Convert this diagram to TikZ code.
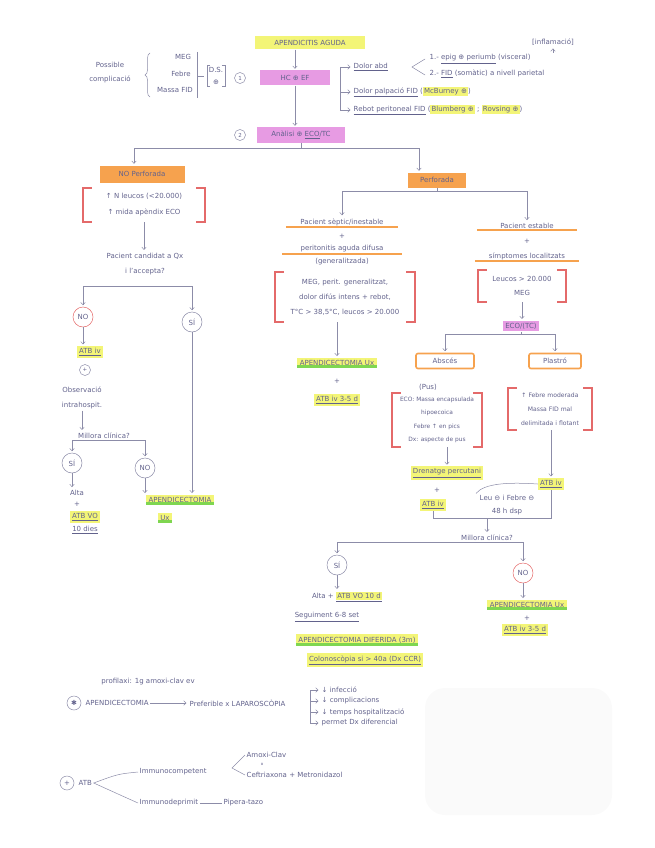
\documentclass[tikz,border=0pt]{standalone}
\usepackage{fontspec}
\setmainfont{DejaVu Sans}
\usetikzlibrary{arrows.meta,decorations.pathreplacing}
\definecolor{ink}{HTML}{62628C}
\definecolor{lnc}{HTML}{8C8CA8}
\definecolor{hy}{HTML}{F3F577}
\definecolor{hm}{HTML}{E79BE3}
\definecolor{ho}{HTML}{F6A24E}
\definecolor{hg}{HTML}{7FD650}
\definecolor{rbc}{HTML}{E46A6A}
\newcommand\hlY[1]{{\setlength{\fboxsep}{1.2pt}\colorbox{hy}{#1}}}
\newcommand\rbk[1]{%
  \draw[rbr] ([xshift=9pt]#1.north west) -- (#1.north west) -- (#1.south west) -- ([xshift=9pt]#1.south west);
  \draw[rbr] ([xshift=-9pt]#1.north east) -- (#1.north east) -- (#1.south east) -- ([xshift=-9pt]#1.south east);}
\begin{document}
\begin{tikzpicture}[x=1pt,y=-1pt,
  every node/.style={font=\fontsize{7}{8.5}\selectfont, text=ink, inner sep=1.5pt, align=center},
  lsp/.style={font=\fontsize{7}{#1}\selectfont},
  yel/.style={fill=hy, inner sep=2.2pt},
  mag/.style={fill=hm, inner sep=2.2pt},
  ora/.style={fill=ho, inner sep=2.2pt},
  yg/.style={fill=hy, inner sep=2.6pt, path picture={\fill[hg] ([yshift=3pt]path picture bounding box.south west) rectangle (path picture bounding box.south east);}},
  oul/.style={append after command={(\tikzlastnode.south west) edge[draw=ho, line width=2pt] (\tikzlastnode.south east)}},
  obox/.style={draw=ho, line width=1.6pt, rounded corners=2pt, inner sep=2.5pt},
  circ/.style={circle, draw=lnc, line width=0.5pt, inner sep=0.5pt, minimum size=20pt},
  ncirc/.style={circle, draw=lnc, line width=0.5pt, inner sep=0.3pt, minimum size=11pt, font=\fontsize{5.5}{6}\selectfont},
  rbr/.style={draw=rbc, line width=1.6pt},
  ln/.style={draw=lnc, line width=0.5pt},
  arr/.style={ln, -{Straight Barb[length=2.5pt,width=4.5pt]}, shorten >=1.5pt}]
\useasboundingbox (0,0) rectangle (655,848);
\fill[gray!4, rounded corners=20pt] (425,688) rectangle (612,815);

% ---------- top ----------
\node[yel, minimum width=110, minimum height=13] (title) at (310,43) {APENDICITIS AGUDA};
\node[mag, minimum width=70, minimum height=15] (hc) at (295,78) {HC ⊕ EF};
\node[ncirc] (n1) at (240,78) {1};
\node[mag, minimum width=88, minimum height=15] (an) at (301,135) {Anàlisi ⊕ \underline{ECO}/TC};
\node[ncirc] (n2) at (240,135) {2};
\draw[arr] (title.south -| hc.north) -- (hc.north);
\draw[arr] (hc.south) -- (hc.south |- an.north);

\node[lsp=14] (pc) at (110,73) {Possible\\complicació};
\draw[ln, decorate, decoration={brace, amplitude=5pt}] (150,97) -- (150,53);
\node (meg) at (183,57) {MEG};
\node (feb) at (181,74) {Febre};
\node (mas) at (175,90) {Massa FID};
\coordinate (vt) at (197,52);
\coordinate (vb) at (197,98);
\draw[ln] (vt) -- (vb);
\draw[ln] (197,76) -- (204,76);
\node[lsp=12] (ds) at (216,76) {D.S.\\⊕};
\draw[ln] ([xshift=3pt]ds.north west) -- (ds.north west) -- (ds.south west) -- ([xshift=3pt]ds.south west);
\draw[ln] ([xshift=-3pt]ds.north east) -- (ds.north east) -- (ds.south east) -- ([xshift=-3pt]ds.south east);

\coordinate (brt) at (340,67);
\coordinate (brb) at (340,110);
\node[anchor=west] (dabd) at (352,67) {\underline{Dolor abd}};
\draw[ln] (425,59) -- (412,67) -- (425,75);
\node[anchor=west] (d1) at (428,59) {1.- \underline{epig ⊕ periumb} (visceral)};
\node[anchor=west] (d2) at (428,74) {2.- \underline{FID} (somàtic) a nivell parietal};
\node (infl) at (553,42) {[inflamació]};
\draw[arr] (d1.north -| infl) -- (infl.south);
\node[anchor=west] (dpal) at (352,92) {\underline{Dolor palpació FID} (\hlY{McBurney ⊕})};
\node[anchor=west] (reb) at (352,110) {\underline{Rebot peritoneal FID} (\hlY{Blumberg ⊕} ; \hlY{Rovsing ⊕})};
\draw[ln] (brt) -- (brb);
\draw[arr] (brt) -- (dabd.west);
\draw[arr] (brt |- dpal.west) -- (dpal.west);
\draw[arr] (brb) -- (reb.west);

% ---------- main branch ----------
\node[ora, minimum width=85, minimum height=17] (npf) at (142,174) {NO Perforada};
\node[ora, minimum width=58, minimum height=15] (pf) at (437,180) {Perforada};
\draw[ln] (an.south) -- ++(0,6) coordinate (bj);
\draw[arr] (bj) -| ([xshift=-8pt]npf.north);
\draw[arr] (bj) -| ([xshift=-18pt]pf.north);

% ---------- NO perforada ----------
\node[lsp=16, minimum width=122, minimum height=34] (npfc) at (144,205) {↑ N leucos (<20.000)\\↑ mida apèndix ECO};
\rbk{npfc}
\node[lsp=15] (cand) at (145,264) {Pacient candidat a Qx\\i l'accepta?};
\draw[arr] (npfc.south) -- (npfc.south |- cand.north);
\node[circ, draw=rbc] (no1) at (83,317) {NO};
\node[circ] (si1) at (192,322) {SÍ};
\coordinate (cj) at (145,286);
\draw[arr] (cj) -| (no1.north);
\draw[arr] (cj) -| (si1.north);
\node[yel] (atb1) at (90,352) {\underline{ATB iv}};
\draw[arr] (no1.south) -- (no1.south |- atb1.north);
\node[ncirc] (pl1) at (85,370) {+};
\node[lsp=15] (obs) at (82,398) {Observació\\intrahospit.};
\node (mc1) at (104,436) {Millora clínica?};
\draw[arr] (obs.south) -- (obs.south |- mc1.north);
\node[circ] (si2) at (72,463) {SÍ};
\node[circ] (no2) at (145,468) {NO};
\draw[arr] (mc1.south) -| (si2.north);
\draw[arr] (mc1.south) -| (no2.north);
\node (alta1) at (77,493) {Alta};
\draw[arr] (si2.south) -- (si2.south |- alta1.north);
\node (plus1) at (77,504) {+};
\node[yel] (atbvo) at (85,517) {\underline{ATB VO}};
\node (dies) at (85,530) {\underline{10 dies}};
\node[yg] (apux1) at (180,500) {APENDICECTOMIA};
\node[yg] (ux1) at (165,518) {Ux};
\draw[arr] (no2.south) -- (no2.south |- apux1.north);
\draw[arr] (si1.south) -- (si1.south |- apux1.north);

% ---------- Perforada ----------
\draw[ln] (pf.south) -- ++(0,4) coordinate (pj);
\node[oul, minimum width=112] (sep) at (342,222) {Pacient sèptic/inestable};
\node[oul, minimum width=100] (est) at (527,226) {Pacient estable};
\draw[arr] (pj) -| (sep.north);
\draw[arr] (pj) -| (est.north);
\node (plus2) at (342,236) {+};
\node[oul, minimum width=120] (per) at (342,249) {peritonitis aguda difusa};
\node (gen) at (342,262) {(generalitzada)};
\node[lsp=15, minimum width=140, minimum height=50] (sepc) at (345,297) {MEG, perit. generalitzat,\\dolor difús intens + rebot,\\T°C > 38,5°C, leucos > 20.000};
\rbk{sepc}
\node[yg] (apux2) at (337,363) {APENDICECTOMIA Ux};
\draw[arr] (sepc.south -| apux2.north) -- (apux2.north);
\node (plus3) at (337,381) {+};
\node[yel] (atb35a) at (337,400) {\underline{ATB iv 3-5 d}};

\node (plus4) at (527,241) {+};
\node[oul, minimum width=104] (sim) at (527,256) {símptomes localitzats};
\node[lsp=14, minimum width=88, minimum height=32] (estc) at (522,286) {Leucos > 20.000\\MEG};
\rbk{estc}
\node[mag] (eco) at (521,326) {ECO/(TC)};
\draw[arr] (estc.south) -- (estc.south |- eco.north);
\draw[ln] (eco.south) -- ++(0,3) coordinate (ej);
\node[obox, minimum width=58, minimum height=15] (absc) at (445,361) {Abscés};
\node[obox, minimum width=52, minimum height=15] (plas) at (555,361) {Plastró};
\draw[arr] (ej) -| (absc.north);
\draw[arr] (ej) -| (plas.north);
\node (pus) at (428,387) {(Pus)};
\node[font=\fontsize{5.9}{13.5}\selectfont, minimum width=90, minimum height=54] (absc2) at (437,420) {ECO: Massa encapsulada\\hipoecoica\\Febre ↑ en pics\\Dx: aspecte de pus};
\rbk{absc2}
\node[font=\fontsize{6.1}{14}\selectfont, minimum width=84, minimum height=42] (plas2) at (550,409) {↑ Febre moderada\\Massa FID mal\\delimitada i flotant};
\rbk{plas2}
\node[yel] (dren) at (447,473) {\underline{Drenatge percutani}};
\draw[arr] (absc2.south -| dren.north) -- (dren.north);
\node (plus5) at (437,490) {+};
\node[yel] (atb2) at (433,505) {\underline{ATB iv}};
\node[yel] (atb3) at (551,484) {\underline{ATB iv}};
\draw[arr] (plas2.south -| atb3.north) -- (atb3.north);
\node[lsp=13] (leu) at (507,505) {Leu ⊖ i Febre ⊖\\48 h dsp};
\draw[ln] (atb3.west) .. controls +(-30,-2) and +(8,-10) .. ([xshift=-2pt]leu.north west);
\draw[ln] (atb2.south) -- ++(0,7) coordinate (mj2);
\draw[ln] (atb3.south) -- (atb3.south |- mj2) -- (mj2);
\node (mc2) at (487,538) {Millora clínica?};
\coordinate (mj3) at (mc2.north |- mj2);
\draw[arr] (mj3) -- (mc2.north);
\node[circ] (si3) at (337,565) {SÍ};
\node[circ, draw=rbc] (no3) at (523,573) {NO};
\draw[arr] (mc2.south) -| (si3.north);
\draw[arr] (mc2.south) -| (no3.north);
\node (alta2) at (347,597) {Alta + \underline{\hlY{ATB VO 10 d}}};
\draw[arr] (si3.south) -- (si3.south |- alta2.north);
\node (seg) at (327,617) {\underline{Seguiment 6-8 set}};
\node[yg] (dif) at (357,640) {APENDICECTOMIA DIFERIDA (3m)};
\node[yel] (colo) at (365,660) {\underline{Colonoscòpia si > 40a (Dx CCR)}};
\node[yg] (apux3) at (527,605) {APENDICECTOMIA Ux};
\draw[arr] (no3.south) -- (no3.south |- apux3.north);
\node (plus6) at (527,618) {+};
\node[yel] (atb35b) at (525,630) {\underline{ATB iv 3-5 d}};

% ---------- bottom notes ----------
\node (prof) at (148,682) {profilaxi: 1g amoxi-clav ev};
\node[circ, minimum size=14pt] (st1) at (74,703) {✱};
\node[anchor=west] (apl) at (84,703) {APENDICECTOMIA};
\node[anchor=west] (pref) at (188,703) {Preferible x LAPAROSCÒPIA};
\draw[arr] (apl.east) -- (pref.west);
\coordinate (lt) at (310,690);
\coordinate (lb) at (310,723);
\node[anchor=west] (i1) at (320,690) {↓ infecció};
\node[anchor=west] (i2) at (320,701) {↓ complicacions};
\node[anchor=west] (i3) at (320,712) {↓ temps hospitalització};
\node[anchor=west] (i4) at (320,723) {permet Dx diferencial};
\draw[ln] (lt) -- (lb);
\draw[arr] (lt) -- (i1.west);
\draw[arr] (lt |- i2.west) -- (i2.west);
\draw[arr] (lt |- i3.west) -- (i3.west);
\draw[arr] (lb) -- (i4.west);

\node[circ, minimum size=14pt] (st2) at (67,783) {+};
\node[anchor=west] (atb) at (77,783) {ATB};
\node[anchor=west] (imc) at (138,772) {Immunocompetent};
\node[anchor=west] (imd) at (138,803) {Immunodeprimit};
\draw[ln] (imc.west) .. controls (118,774) .. (atb.east) .. controls (118,794) .. (imd.west);
\node[anchor=west] (amx) at (245,755) {Amoxi-Clav};
\node[font=\fontsize{4}{5}\selectfont] (oo) at (262,764) {o};
\node[anchor=west] (cef) at (245,775) {Ceftriaxona + Metronidazol};
\coordinate (tip2) at (232,768);
\draw[ln] (amx.west) -- (tip2) -- (cef.west);
\node[anchor=west] (pip) at (222,803) {Pipera-tazo};
\draw[ln] (imd.east) -- (pip.west);
\end{tikzpicture}
\end{document}
